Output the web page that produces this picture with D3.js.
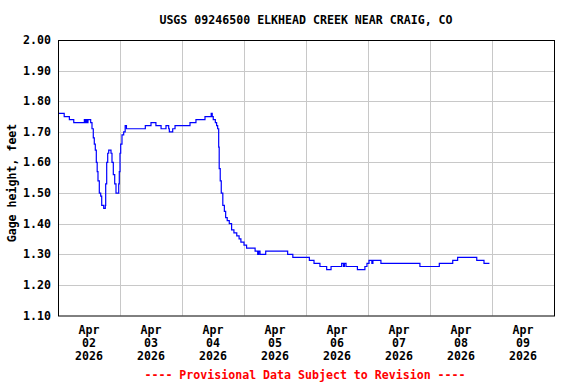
<!DOCTYPE html>
<html>
<head>
<meta charset="utf-8">
<script src="https://cdn.jsdelivr.net/npm/d3@7"></script>
<style>
  body { margin: 0; background: #fff; }
  text { font-family: "DejaVu Sans Mono", monospace; font-weight: bold; font-size: 11.6px; }
</style>
</head>
<body>
<svg width="576" height="384"></svg>
<script>
// Data: hours since Apr 02 2026 00:00, gage height (ft)
const hours = [0, 2.4, 4.4, 6.1, 10.2, 10.6, 11.0, 11.3, 11.6, 12.65, 13.16, 13.66, 14.05, 14.44, 14.83, 15.17, 15.48, 15.99, 16.53, 16.92, 17.69, 18.31, 18.46, 18.85, 19.24, 19.63, 20.13, 20.52, 20.9, 21.41, 21.95, 22.45, 23.11, 23.5, 23.73, 24.0, 24.27, 24.77, 25.43, 26.0, 26.5,
  33.8, 36.0, 37.9, 39.9, 41.8, 42.85, 43.1, 44.4, 45.3, 51.1, 53.4, 56.9, 59.3, 59.7, 60.1, 60.9, 61.4, 61.8, 62.2, 62.4, 62.8, 63.2, 63.8, 64.4, 64.9, 65.5, 66.3, 67.2, 68.1, 69.2, 70.1, 70.8, 72.0, 73.0,
  76.3, 77.3, 77.7, 78.2, 80.4, 88.9, 90.9, 97.3, 99.1, 101.4, 104.0, 105.7, 109.8, 110.5, 110.9, 111.5, 115.9, 118.8, 119.6, 120.4, 121.5, 121.9, 125.0, 140.1, 147.6, 152.8, 154.7, 162.1, 164.9, 167.0];
const gage = [1.76, 1.75, 1.74, 1.73, 1.74, 1.73, 1.74, 1.73, 1.74, 1.73, 1.71, 1.68, 1.66, 1.64, 1.60, 1.57, 1.54, 1.50, 1.49, 1.46, 1.45, 1.46, 1.53, 1.60, 1.63, 1.64, 1.64, 1.63, 1.60, 1.56, 1.53, 1.50, 1.50, 1.53, 1.57, 1.63, 1.66, 1.69, 1.70, 1.72, 1.71,
  1.72, 1.73, 1.72, 1.71, 1.72, 1.71, 1.70, 1.71, 1.72, 1.73, 1.74, 1.75, 1.76, 1.75, 1.74, 1.73, 1.72, 1.71, 1.65, 1.58, 1.54, 1.50, 1.46, 1.44, 1.42, 1.41, 1.40, 1.38, 1.37, 1.36, 1.35, 1.34, 1.33, 1.32,
  1.31, 1.30, 1.31, 1.30, 1.31, 1.30, 1.29, 1.28, 1.27, 1.26, 1.25, 1.26, 1.27, 1.26, 1.27, 1.26, 1.25, 1.26, 1.27, 1.28, 1.27, 1.28, 1.27, 1.26, 1.27, 1.28, 1.29, 1.28, 1.27, 1.27];

const yTicks = [1.10, 1.20, 1.30, 1.40, 1.50, 1.60, 1.70, 1.80, 1.90, 2.00];
const dayLabels = ["02", "03", "04", "05", "06", "07", "08", "09"];
const title = "USGS 09246500 ELKHEAD CREEK NEAR CRAIG, CO";

const svg = d3.select("svg");
const mLeft = 58, mRight = 554, mTop = 40, mBottom = 315.5;

const start = new Date(2026, 3, 2);
const x = d3.scaleTime()
    .domain([start, d3.timeDay.offset(start, 8)])
    .range([mLeft, mRight]);
const y = d3.scaleLinear().domain([1.10, 2.00]).range([mBottom, mTop]);

const data = hours.map((h, i) => ({ t: new Date(start.getTime() + h * 3600e3), v: gage[i] }));

// grid
svg.append("g").selectAll("line")
    .data(yTicks.slice(1, -1))
    .join("line")
    .attr("x1", mLeft).attr("x2", mRight)
    .attr("y1", d => Math.round(y(d)) + 0.5).attr("y2", d => Math.round(y(d)) + 0.5)
    .attr("stroke", "#c8c8c8");

svg.append("g").selectAll("line")
    .data(d3.timeDay.range(d3.timeDay.offset(start, 1), d3.timeDay.offset(start, 8)))
    .join("line")
    .attr("x1", d => Math.round(x(d)) + 0.5).attr("x2", d => Math.round(x(d)) + 0.5)
    .attr("y1", mTop).attr("y2", mBottom)
    .attr("stroke", "#c8c8c8");

// the line
svg.append("path")
    .datum(data)
    .attr("fill", "none")
    .attr("stroke", "#0000ff")
    .attr("stroke-width", 1.2)
    .attr("d", d3.line().x(d => x(d.t)).y(d => y(d.v)).curve(d3.curveStepAfter));

// frame
svg.append("rect")
    .attr("x", mLeft + 0.5).attr("y", mTop + 0.5)
    .attr("width", mRight - mLeft).attr("height", mBottom - mTop)
    .attr("fill", "none").attr("stroke", "#000");

// y labels
svg.append("g").selectAll("text")
    .data(yTicks)
    .join("text")
    .attr("x", 51).attr("y", d => y(d) + 4)
    .attr("text-anchor", "end")
    .text(d => d.toFixed(2));

svg.append("text")
    .attr("transform", "translate(16,183) rotate(-90)")
    .attr("text-anchor", "middle")
    .text("Gage height, feet");

// x labels (centered at noon)
const xl = svg.append("g").selectAll("g")
    .data(dayLabels)
    .join("g")
    .attr("transform", (d, i) => `translate(${x(d3.timeHour.offset(start, 24 * i + 12))},0)`);
xl.append("text").attr("y", 334).attr("text-anchor", "middle").text("Apr");
xl.append("text").attr("y", 347).attr("text-anchor", "middle").text(d => d);
xl.append("text").attr("y", 360).attr("text-anchor", "middle").text("2026");

svg.append("text")
    .attr("x", 306).attr("y", 24)
    .attr("text-anchor", "middle")
    .text(title);

svg.append("text")
    .attr("x", 305).attr("y", 379)
    .attr("text-anchor", "middle")
    .attr("fill", "#ff0000")
    .text("---- Provisional Data Subject to Revision ----");
</script>
</body>
</html>
